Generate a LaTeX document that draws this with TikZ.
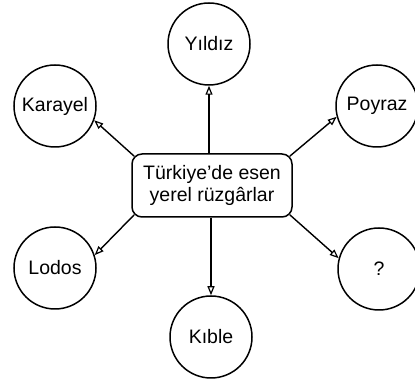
\documentclass[tikz,border=0pt]{standalone}
\usepackage{fontspec}
\setmainfont{Liberation Sans}
\usetikzlibrary{arrows.meta,calc}
\begin{document}
\begin{tikzpicture}[x=1pt,y=1pt,
  wind/.style={circle,draw,line width=1.5pt,minimum size=82pt,inner sep=0pt,font=\fontsize{19.5}{22}\selectfont},
  hub/.style={draw,rounded corners=10pt,line width=1.5pt,minimum width=160pt,minimum height=63pt,align=center,inner sep=2pt,font=\fontsize{19.5}{21.5}\selectfont},
  conn/.style={line width=1.4pt,-{Triangle[open,length=9pt,width=7pt,line width=1.2pt]}}]
\useasboundingbox (0,0) rectangle (415,382);
\node[hub] (box) at (212,196.5) {Türkiye’de esen\\yerel rüzgârlar};
\node[wind] (yildiz) at (209,338) {Yıldız};
\node[wind] (karayel) at (55,276) {Karayel};
\node[wind] (poyraz) at (377,276) {Poyraz};
\node[wind] (lodos) at (55,114) {Lodos};
\node[wind] (kible) at (211,45) {Kıble};
\node[wind] (q) at (379,113) {?};
\coordinate (nw) at ($(box.north west)+(2.9,-2.9)$);
\coordinate (ne) at ($(box.north east)+(-2.9,-2.9)$);
\coordinate (sw) at ($(box.south west)+(2.9,2.9)$);
\coordinate (se) at ($(box.south east)+(-2.9,2.9)$);
\draw[conn] (box.north -| yildiz) -- (yildiz.south);
\draw[conn] (box.south -| kible) -- (kible.north);
\draw[conn] (nw) -- (karayel.340);
\draw[conn] (ne) -- (poyraz.195);
\draw[conn] (sw) -- (lodos.18);
\draw[conn] (se) -- (q.165);
\end{tikzpicture}
\end{document}
